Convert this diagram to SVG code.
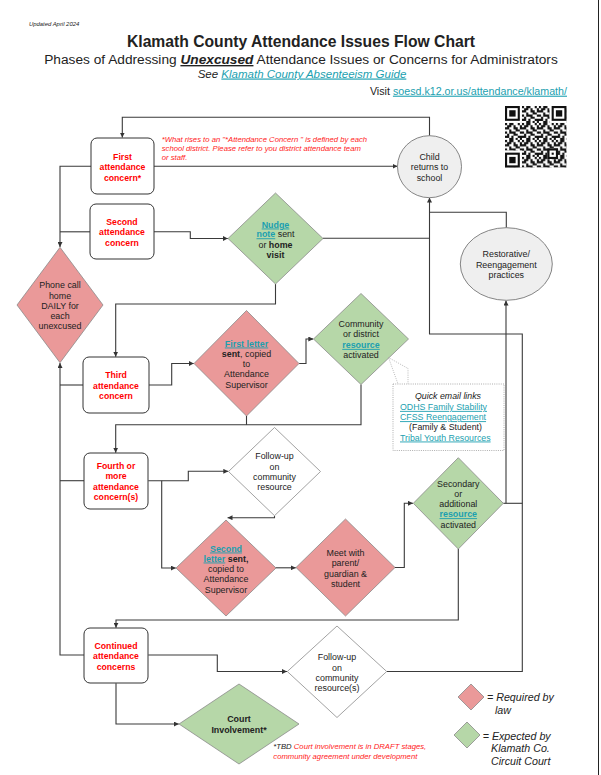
<svg xmlns="http://www.w3.org/2000/svg" width="601" height="775" viewBox="0 0 601 775">
<defs>
<marker id="ar" viewBox="0 0 6 6" refX="6" refY="3" markerWidth="5" markerHeight="5" markerUnits="userSpaceOnUse" orient="auto"><path d="M0,0 L6,3 L0,6 z" fill="#333"/></marker>
<pattern id="qrp" patternUnits="userSpaceOnUse" width="8" height="8">
<path fill="#111" d="M0 0h1v1h-1zM2 0h2v1h-2zM6 0h1v1h-1zM1 1h2v1h-2zM4 1h1v1h-1zM7 1h1v1h-1zM0 2h2v1h-2zM4 2h2v1h-2zM7 2h1v1h-1zM2 3h1v1h-1zM5 3h2v1h-2zM0 4h1v1h-1zM2 4h3v1h-3zM7 4h1v1h-1zM1 5h1v1h-1zM4 5h2v1h-2zM0 6h2v1h-2zM3 6h1v1h-1zM6 6h2v1h-2zM2 7h2v1h-2zM5 7h1v1h-1zM7 7h1v1h-1z"/>
</pattern>
<style>
text{font-family:"Liberation Sans",Arial,sans-serif;fill:#222}
.n{font-size:8.9px;text-anchor:middle}
.r{font-size:8.7px;font-weight:bold;fill:#ff0000;text-anchor:middle}
.lk{fill:#1b9fb0;text-decoration:underline}
.bd{font-weight:bold}
.box{fill:#fff;stroke:#333;stroke-width:1}
.red{fill:#ea9999;stroke:#8a8a8a;stroke-width:0.8}
.grn{fill:#b6d7a8;stroke:#8a8a8a;stroke-width:0.8}
.wht{fill:#fff;stroke:#8a8a8a;stroke-width:0.8}
.gry{fill:#efefef;stroke:#777;stroke-width:0.9}
.c path{fill:none;stroke:#3a3a3a;stroke-width:1.1}
.note{font-size:7.7px;font-style:italic;fill:#ff1a1a}
.leg{font-size:10.7px;font-style:italic}
</style>
</defs>
<rect width="601" height="775" fill="#fff"/>
<line x1="598.5" y1="0" x2="598.5" y2="775" stroke="#222" stroke-width="1"/>

<g id="header">
<text x="29" y="26" font-size="5.9" font-style="italic">Updated April 2024</text>
<text x="301" y="46.5" font-size="15.7" font-weight="bold" text-anchor="middle" fill="#000">Klamath County Attendance Issues Flow Chart</text>
<text x="301" y="64" font-size="13.7" text-anchor="middle" fill="#000">Phases of Addressing <tspan font-weight="bold" font-style="italic" text-decoration="underline">Unexcused</tspan> Attendance Issues or Concerns for Administrators</text>
<text x="302" y="77.5" font-size="11.5" font-style="italic" text-anchor="middle">See <tspan class="lk">Klamath County Absenteeism Guide</tspan></text>
<text x="567" y="94.7" font-size="10.7" text-anchor="end">Visit <tspan class="lk">soesd.k12.or.us/attendance/klamath/</tspan></text>
</g>

<g id="qr" transform="translate(505,106) scale(2.12)">
<rect x="0" y="0" width="29" height="29" fill="url(#qrp)"/>
<rect x="0" y="0" width="8" height="8" fill="#fff"/><rect x="0" y="0" width="7" height="7" fill="#111"/><rect x="1" y="1" width="5" height="5" fill="#fff"/><rect x="2" y="2" width="3" height="3" fill="#111"/>
<rect x="21" y="0" width="8" height="8" fill="#fff"/><rect x="22" y="0" width="7" height="7" fill="#111"/><rect x="23" y="1" width="5" height="5" fill="#fff"/><rect x="24" y="2" width="3" height="3" fill="#111"/>
<rect x="0" y="21" width="8" height="8" fill="#fff"/><rect x="0" y="22" width="7" height="7" fill="#111"/><rect x="1" y="23" width="5" height="5" fill="#fff"/><rect x="2" y="24" width="3" height="3" fill="#111"/>
<rect x="20" y="20" width="5" height="5" fill="#111"/><rect x="21" y="21" width="3" height="3" fill="#fff"/><rect x="22" y="22" width="1" height="1" fill="#111"/>
</g>

<g class="c" id="connectors">
<path d="M429.5,135.7 V117.3 H122.3 V137.5" marker-end="url(#ar)"/>
<path d="M154,166.3 H397.5" marker-end="url(#ar)"/>
<path d="M91,166.3 H60 V247" marker-end="url(#ar)"/>
<path d="M90,231.8 H60"/>
<path d="M154,231.8 H190.3 V238.5 H227.8" marker-end="url(#ar)"/>
<path d="M323,238.3 H429.5"/>
<path d="M386.7,671.5 H522.3 V334 H429.5 V197.6" marker-end="url(#ar)"/>
<path d="M506.3,227.7 V212.3 H429.5"/>
<path d="M503.3,503.3 H522.3"/>
<path d="M506,503.3 V300.5" marker-end="url(#ar)"/>
<path d="M275.5,284 V304 H115.7 V356.7" marker-end="url(#ar)"/>
<path d="M149,385 H171.7 V363.5 H193.8" marker-end="url(#ar)"/>
<path d="M83,385 H60"/>
<path d="M84,655 H60 V363" marker-end="url(#ar)"/>
<path d="M84,480.7 H60"/>
<path d="M299,363.5 H306 V339 H313.3" marker-end="url(#ar)"/>
<path d="M361,384.5 V424.8 H115.7 V452.7" marker-end="url(#ar)"/>
<path d="M246.5,416 V424.8"/>
<path d="M148.3,480.7 H188.3 V471.3 H228.3" marker-end="url(#ar)"/>
<path d="M161.7,480.7 V568 H175.8" marker-end="url(#ar)"/>
<path d="M274.5,515.7 V517.7 H227.5" marker-end="url(#ar)"/>
<path d="M275.5,567.8 H295.8" marker-end="url(#ar)"/>
<path d="M395,567.5 H404.3 V503.3 H413" marker-end="url(#ar)"/>
<path d="M458.3,549 V620 H116 V627.7" marker-end="url(#ar)"/>
<path d="M148.3,655 H217.3 V671.5 H287" marker-end="url(#ar)"/>
<path d="M116,683.3 V724 H178.8" marker-end="url(#ar)"/>
</g>

<g id="first">
<rect class="box" x="91" y="138" width="63" height="56" rx="6"/>
<text class="r" x="122.5" y="159.8">First</text>
<text class="r" x="122.5" y="170.1">attendance</text>
<text class="r" x="122.5" y="180.8">concern*</text>
</g>
<g id="second">
<rect class="box" x="90" y="204" width="64" height="55" rx="6"/>
<text class="r" x="122" y="225.1">Second</text>
<text class="r" x="122" y="235.4">attendance</text>
<text class="r" x="122" y="245.8">concern</text>
</g>
<g id="nudge">
<polygon class="grn" points="275.5,193 323,238.5 275.5,284 228,238.5"/>
<text class="n" x="275.5" y="227.5"><tspan class="lk bd">Nudge</tspan></text>
<text class="n" x="275.5" y="237.3"><tspan class="lk bd">note</tspan> sent</text>
<text class="n" x="275.5" y="247.5">or <tspan class="bd">home</tspan></text>
<text class="n bd" x="275.5" y="257.5">visit</text>
</g>
<g id="child">
<ellipse class="gry" cx="429.5" cy="166.7" rx="32" ry="31"/>
<text class="n" x="429.5" y="160.2">Child</text>
<text class="n" x="429.5" y="170.3">returns to</text>
<text class="n" x="429.5" y="180.5">school</text>
</g>
<g id="restorative">
<ellipse class="gry" cx="506.3" cy="264" rx="46" ry="36.3"/>
<text class="n" x="506.3" y="256.9">Restorative/</text>
<text class="n" x="506.3" y="267.5">Reengagement</text>
<text class="n" x="506.3" y="277.9">practices</text>
</g>
<g id="phone">
<polygon class="red" points="60,247.3 103,305 60,362.7 17,305"/>
<text class="n" x="60" y="288.2">Phone call</text>
<text class="n" x="60" y="298.5">home</text>
<text class="n" x="60" y="308.9">DAILY for</text>
<text class="n" x="60" y="319.2">each</text>
<text class="n" x="60" y="329.4">unexcused</text>
</g>
<g id="third">
<rect class="box" x="83" y="357" width="66" height="56" rx="6"/>
<text class="r" x="116" y="378.1">Third</text>
<text class="r" x="116" y="388.8">attendance</text>
<text class="r" x="116" y="399.1">concern</text>
</g>
<g id="firstletter">
<polygon class="red" points="246.5,310.5 299,363.5 246.5,416 194,363.5"/>
<text class="n" x="246.5" y="346.5"><tspan class="lk bd">First letter</tspan></text>
<text class="n" x="246.5" y="356.5"><tspan class="bd">sent</tspan>, copied</text>
<text class="n" x="246.5" y="366.9">to</text>
<text class="n" x="246.5" y="377.2">Attendance</text>
<text class="n" x="246.5" y="387.5">Supervisor</text>
</g>
<g id="community">
<polygon class="grn" points="361,293.5 408.5,339 361,384.5 313.5,339"/>
<text class="n" x="361" y="326.9">Community</text>
<text class="n" x="361" y="337.2">or district</text>
<text class="n" x="361" y="347.9"><tspan class="lk bd">resource</tspan></text>
<text class="n" x="361" y="358.2">activated</text>
</g>
<g id="quicklinks">
<path d="M388.5,357.5 L408,368.5 L408,384 M388.5,357.5 L398,384" fill="none" stroke="#aaa" stroke-width="0.8" stroke-dasharray="1,1.2"/>
<rect x="393" y="384" width="111" height="66.5" fill="#fff" stroke="#999" stroke-width="0.8" stroke-dasharray="1,1.2"/>
<text x="448" y="399.2" font-size="8.8" font-style="italic" text-anchor="middle">Quick email links</text>
<text x="400" y="409.9" font-size="8.8" class="lk">ODHS Family Stability</text>
<text x="400" y="420.2" font-size="8.8" class="lk">CFSS Reengagement</text>
<text x="445.5" y="430.2" font-size="8.8" text-anchor="middle">(Family &amp; Student)</text>
<text x="400" y="440.5" font-size="8.8" class="lk">Tribal Youth Resources</text>
</g>
<g id="fourth">
<rect class="box" x="84" y="453" width="64" height="56" rx="6"/>
<text class="r" x="116" y="468.9">Fourth or</text>
<text class="r" x="116" y="479.2">more</text>
<text class="r" x="116" y="489.6">attendance</text>
<text class="r" x="116" y="500.2">concern(s)</text>
</g>
<g id="followup1">
<polygon class="wht" points="274.5,427.5 320.5,471.5 274.5,515.7 228.5,471.5"/>
<text class="n" x="274.5" y="459.2">Follow-up</text>
<text class="n" x="274.5" y="469.9">on</text>
<text class="n" x="274.5" y="480.2">community</text>
<text class="n" x="274.5" y="490.2">resource</text>
</g>
<g id="secondletter">
<polygon class="red" points="226,520 276,568 226,616 176,568"/>
<text class="n" x="226" y="551.5"><tspan class="lk bd">Second</tspan></text>
<text class="n" x="226" y="561.5"><tspan class="lk bd">letter</tspan><tspan class="bd"> sent,</tspan></text>
<text class="n" x="226" y="571.9">copied to</text>
<text class="n" x="226" y="582.2">Attendance</text>
<text class="n" x="226" y="592.5">Supervisor</text>
</g>
<g id="meet">
<polygon class="red" points="345.5,519 395,567.5 345.5,616 296,567.5"/>
<text class="n" x="345.5" y="555.5">Meet with</text>
<text class="n" x="345.5" y="565.9">parent/</text>
<text class="n" x="345.5" y="576.5">guardian &amp;</text>
<text class="n" x="345.5" y="586.9">student</text>
</g>
<g id="secondary">
<polygon class="grn" points="458.3,457.7 503.3,503.3 458.3,549 413.3,503.3"/>
<text class="n" x="458.3" y="486.5">Secondary</text>
<text class="n" x="458.3" y="496.5">or</text>
<text class="n" x="458.3" y="506.9">additional</text>
<text class="n" x="458.3" y="517.2"><tspan class="lk bd">resource</tspan></text>
<text class="n" x="458.3" y="527.9">activated</text>
</g>
<g id="continued">
<rect class="box" x="84" y="628" width="64" height="55" rx="6"/>
<text class="r" x="116" y="648.9">Continued</text>
<text class="r" x="116" y="659.2">attendance</text>
<text class="r" x="116" y="669.5">concerns</text>
</g>
<g id="followup2">
<polygon class="wht" points="337,626 386.7,671.5 337,717.5 287.3,671.5"/>
<text class="n" x="337" y="660.2">Follow-up</text>
<text class="n" x="337" y="670.5">on</text>
<text class="n" x="337" y="680.9">community</text>
<text class="n" x="337" y="691.2">resource(s)</text>
</g>
<g id="court">
<polygon class="grn" points="239,684 299,724 239,764 179,724"/>
<text class="n bd" x="239" y="722.2" fill="#111">Court</text>
<text class="n bd" x="239" y="732.5" fill="#111">Involvement*</text>
</g>

<g id="notes">
<text class="note" x="161.7" y="141.7">*What rises to an "*Attendance Concern " is defined by each</text>
<text class="note" x="161.7" y="151">school district. Please refer to you district attendance team</text>
<text class="note" x="161.7" y="160.4">or staff.</text>
<text class="note" x="273.3" y="749.4"><tspan fill="#222">*TBD </tspan>Court involvement is in DRAFT stages,</text>
<text class="note" x="273.3" y="758.7">community agreement under development</text>
</g>

<g id="legend">
<polygon class="red" points="471,684 484,697 471,710 458,697"/>
<text class="leg" x="487" y="701.1">= Required by</text>
<text class="leg" x="495" y="713.8">law</text>
<polygon class="grn" points="467,722 480,735 467,748 454,735"/>
<text class="leg" x="482.7" y="739.5">= Expected by</text>
<text class="leg" x="491" y="752.1">Klamath Co.</text>
<text class="leg" x="491" y="765.1">Circuit Court</text>
</g>
</svg>
